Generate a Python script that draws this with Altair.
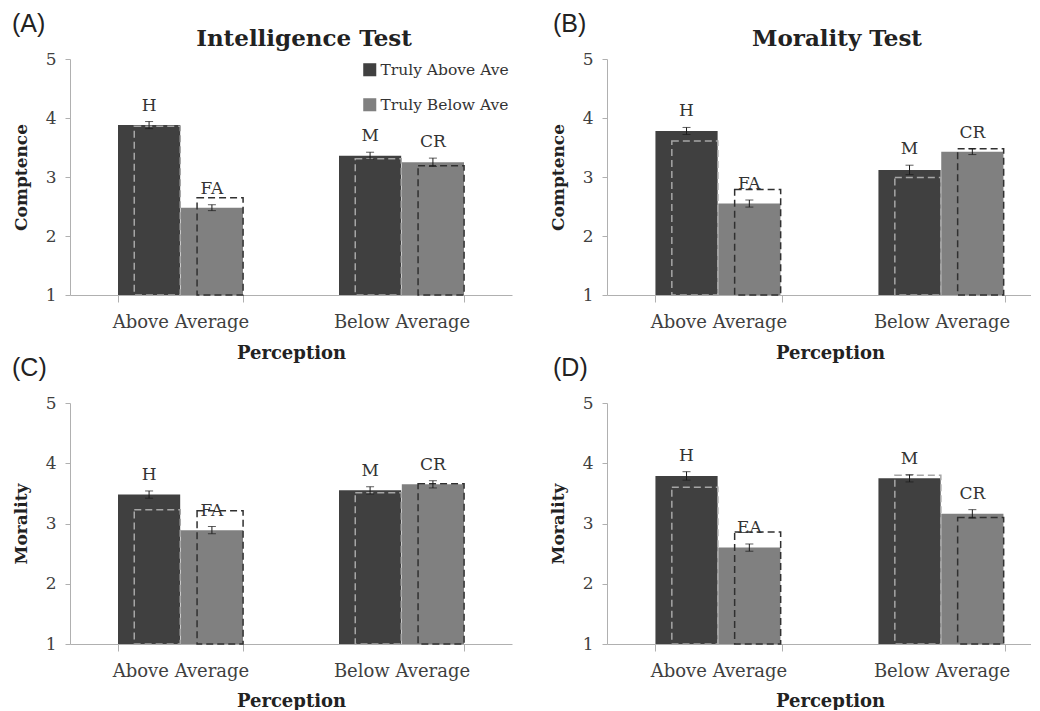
import altair as alt
import pandas as pd

# ---- data ----
perception = ["Above Average", "Above Average", "Below Average", "Below Average"]
truth = ["Truly Above Ave", "Truly Below Ave", "Truly Above Ave", "Truly Below Ave"]
categories = ["Above Average", "Below Average"]
series = ["Truly Above Ave", "Truly Below Ave"]

# Panel A: Intelligence Test, Comptence
a_mean = [3.88, 2.48, 3.36, 3.25]
a_err = [0.06, 0.05, 0.06, 0.07]
a_pred = [3.86, 2.65, 3.31, 3.19]
a_lab = ["H", "FA", "M", "CR"]

# Panel B: Morality Test, Comptence
b_mean = [3.78, 2.55, 3.12, 3.43]
b_err = [0.06, 0.06, 0.08, 0.05]
b_pred = [3.61, 2.79, 2.99, 3.48]
b_lab = ["H", "FA", "M", "CR"]

# Panel C: Intelligence Test, Morality
c_mean = [3.48, 2.89, 3.55, 3.65]
c_err = [0.06, 0.06, 0.06, 0.06]
c_pred = [3.23, 3.21, 3.51, 3.66]
c_lab = ["H", "FA", "M", "CR"]

# Panel D: Morality Test, Morality
d_mean = [3.79, 2.60, 3.75, 3.16]
d_err = [0.07, 0.06, 0.06, 0.07]
d_pred = [3.60, 2.86, 3.80, 3.10]
d_lab = ["H", "EA", "M", "CR"]

SERIF = "DejaVu Serif"
BAR_COLORS = ["#404040", "#808080"]
DASH_COLORS = ["#a6a6a6", "#303030"]


def panel(mean, err, pred, labs, letter, letter_x, ytitle, title, width, height,
          title_dx, show_legend, x_title_pad):
    df = pd.DataFrame({
        "perception": perception,
        "truth": truth,
        "mean": mean,
        "lo": [m - e for m, e in zip(mean, err)],
        "hi": [m + e for m, e in zip(mean, err)],
        "pred": pred,
        "lab": labs,
        "base": [1] * 4,
    })
    x = alt.X("perception:N", sort=categories,
              scale=alt.Scale(paddingInner=0.4344, paddingOuter=0.2172),
              axis=alt.Axis(labelAngle=0, tickBand="extent", tickSize=7,
                            labelPadding=11, titlePadding=x_title_pad),
              title="Perception")
    xo = alt.XOffset("truth:N", sort=series,
                     scale=alt.Scale(paddingInner=0.01, paddingOuter=0))
    y = alt.Y("mean:Q", scale=alt.Scale(domain=[1, 5], nice=False, zero=False),
              axis=alt.Axis(values=[1, 2, 3, 4, 5], format="d", tickSize=5,
                            labelPadding=9, titlePadding=15),
              title=ytitle)
    if show_legend:
        leg = alt.Legend(orient="none", legendX=292, legendY=3, title=None,
                         symbolType="square", symbolSize=170, symbolStrokeWidth=0,
                         labelFont=SERIF, labelFontSize=15.5, labelColor="#333333",
                         rowPadding=18, labelOffset=3)
    else:
        leg = None
    base = alt.Chart(df)
    bars = base.mark_bar().encode(
        x=x, xOffset=xo, y=y, y2="base:Q",
        color=alt.Color("truth:N", sort=series,
                        scale=alt.Scale(domain=series, range=BAR_COLORS),
                        legend=leg),
    )
    boxes = base.mark_bar(fillOpacity=0, strokeDash=[7, 4], strokeWidth=1.5,
                          width=alt.RelativeBandSize(0.74)).encode(
        x=x, xOffset=xo, y="pred:Q", y2="base:Q",
        stroke=alt.Stroke("truth:N", scale=alt.Scale(domain=series, range=DASH_COLORS),
                          legend=None),
    )
    rules = base.mark_rule(color="#1a1a1a", strokeWidth=1).encode(
        x=x, xOffset=xo, y="lo:Q", y2="hi:Q")
    cap_lo = base.mark_tick(color="#1a1a1a", thickness=1, size=8).encode(
        x=x, xOffset=xo, y="lo:Q")
    cap_hi = base.mark_tick(color="#1a1a1a", thickness=1, size=8).encode(
        x=x, xOffset=xo, y="hi:Q")
    texts = base.mark_text(dy=-16, font=SERIF, fontSize=17, color="#333333",
                           baseline="middle").encode(
        x=x, xOffset=xo, y="hi:Q", text="lab:N")
    layers = [bars, boxes, rules, cap_lo, cap_hi, texts]
    letter_layer = alt.Chart(pd.DataFrame({"t": [letter]})).mark_text(
        align="left", baseline="top", font="Liberation Sans", fontSize=25,
        color="#222222").encode(x=alt.value(letter_x), y=alt.value(-47), text="t:N")
    layers.append(letter_layer)
    if title:
        title_layer = alt.Chart(pd.DataFrame({"t": [title]})).mark_text(
            align="center", baseline="middle", font=SERIF, fontSize=23,
            fontWeight="bold", color="#222222").encode(
            x=alt.value(width / 2 + title_dx), y=alt.value(-20), text="t:N")
        layers.append(title_layer)
    return alt.layer(*layers).properties(width=width, height=height)


pA = panel(a_mean, a_err, a_pred, a_lab, "(A)", -58, "Comptence", "Intelligence Test", 442, 236, 13, True, 13)
pB = panel(b_mean, b_err, b_pred, b_lab, "(B)", -54, "Comptence", "Morality Test", 446, 236, 7, False, 13)
pC = panel(c_mean, c_err, c_pred, c_lab, "(C)", -58, "Morality", None, 442, 241, 0, False, 12)
pD = panel(d_mean, d_err, d_pred, d_lab, "(D)", -54, "Morality", None, 446, 241, 0, False, 12)

chart = alt.concat(pA, pB, pC, pD, columns=2,
                   spacing={"row": 108, "column": 95}, bounds="flush").resolve_legend(
    color="independent", stroke="independent"
).properties(
    padding={"left": 4, "top": 4, "right": -22, "bottom": 0}
).configure_axis(
    labelFont=SERIF, labelFontSize=17, labelColor="#404040",
    titleFont=SERIF, titleFontSize=17, titleFontWeight="bold", titleColor="#222222",
    domainColor="#b0b0b0", tickColor="#b0b0b0", grid=False,
).configure_axisX(
    labelFontSize=18, titleFontSize=18,
).configure_view(stroke=None)

chart.save("out.html", embed_options={"renderer": "svg", "actions": False})
